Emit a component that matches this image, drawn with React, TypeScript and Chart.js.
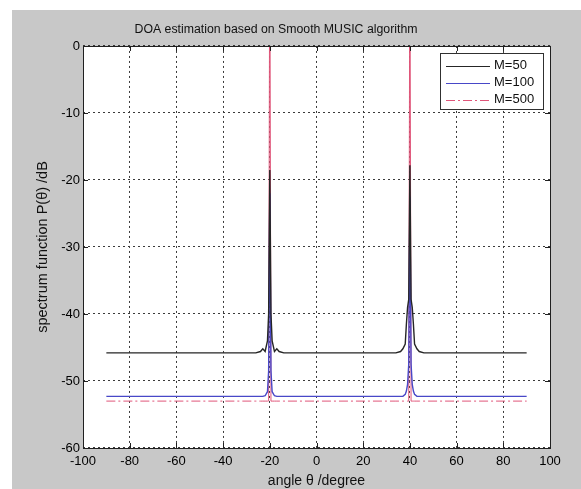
import React, { useEffect, useRef } from "react";
import { Chart, registerables } from "chart.js";

Chart.register(...registerables);

// angle grid (degrees)
const angles = [
  -90, -26, -24, -23, -22, -21, -20.5, -20, -19.5, -19, -18, -17, -16, -14,
  34, 36, 37, 38, 38.5, 39, 39.5, 40, 40.5, 41, 41.5, 42, 43, 44, 46, 90,
];

// spectrum values (dB) for each snapshot count
const m50 = [
  -45.8, -45.8, -45.6, -45.2, -45.6, -44.0, -40.0, -18.5, -40.0, -44.0, -45.6, -45.2, -45.6, -45.8,
  -45.8, -45.6, -45.2, -44.5, -41.5, -39.0, -37.8, -17.8, -37.8, -39.0, -41.5, -44.5, -45.2, -45.6, -45.8, -45.8,
];
const m100 = [
  -52.3, -52.3, -52.3, -52.3, -52.2, -51.6, -48.5, -22.0, -48.5, -51.6, -52.2, -52.3, -52.3, -52.3,
  -52.3, -52.3, -52.3, -52.0, -51.5, -50.5, -47.5, -22.5, -47.5, -50.5, -51.5, -52.0, -52.3, -52.3, -52.3, -52.3,
];
const m500 = [
  -53.0, -53.0, -53.0, -53.0, -53.0, -53.0, -53.0, 20.0, -53.0, -53.0, -53.0, -53.0, -53.0, -53.0,
  -53.0, -53.0, -53.0, -53.0, -53.0, -53.0, -53.0, 20.0, -53.0, -53.0, -53.0, -53.0, -53.0, -53.0, -53.0, -53.0,
];

const seriesLabels = ["M=50", "M=100", "M=500"];
const seriesColors = ["#262626", "#4848c8", "#e0567a"];
const xTicks = [-100, -80, -60, -40, -20, 0, 20, 40, 60, 80, 100];
const yTicks = [-60, -50, -40, -30, -20, -10, 0];

const titleText = "DOA estimation based on Smooth MUSIC algorithm";
const xTitle = "angle \u03b8 /degree";
const yTitle = "spectrum function P(\u03b8) /dB";

const FONT = "'Liberation Sans', Arial, sans-serif";
const DASHDOT = [9, 3, 2, 3];

const framePlugin = {
  id: "frame",
  beforeDraw(chart: any) {
    const { ctx, width, height, chartArea } = chart;
    ctx.save();
    ctx.fillStyle = "#ffffff";
    ctx.fillRect(0, 0, width, height);
    ctx.fillStyle = "#c8c8c8";
    ctx.fillRect(12, 10, width - 12, height - 10);
    ctx.fillStyle = "#ffffff";
    ctx.fillRect(chartArea.left, chartArea.top, chartArea.right - chartArea.left, chartArea.bottom - chartArea.top);
    ctx.restore();
  },
  afterDraw(chart: any) {
    const { ctx, chartArea, scales } = chart;
    const { left, right, top, bottom } = chartArea;
    ctx.save();
    ctx.setLineDash([]);
    ctx.strokeStyle = "#202020";
    ctx.lineWidth = 1;
    ctx.strokeRect(Math.round(left) + 0.5, Math.round(top) + 0.5, Math.round(right - left), Math.round(bottom - top));
    const tl = 5;
    ctx.beginPath();
    for (const v of xTicks) {
      const px = Math.round(scales.x.getPixelForValue(v)) + 0.5;
      ctx.moveTo(px, bottom);
      ctx.lineTo(px, bottom - tl);
      ctx.moveTo(px, top);
      ctx.lineTo(px, top + tl);
    }
    for (const v of yTicks) {
      const py = Math.round(scales.y.getPixelForValue(v)) + 0.5;
      ctx.moveTo(left, py);
      ctx.lineTo(left + tl, py);
      ctx.moveTo(right, py);
      ctx.lineTo(right - tl, py);
    }
    ctx.stroke();

    // legend
    const bx = 440, by = 53, bw = 103, bh = 56;
    ctx.fillStyle = "#ffffff";
    ctx.fillRect(bx, by, bw, bh);
    ctx.strokeStyle = "#303030";
    ctx.strokeRect(bx + 0.5, by + 0.5, bw, bh);
    ctx.font = `13px ${FONT}`;
    ctx.textBaseline = "middle";
    ctx.textAlign = "left";
    chart.data.datasets.forEach((ds: any, i: number) => {
      const y = by + 12.5 + i * 17;
      ctx.strokeStyle = ds.borderColor;
      ctx.lineWidth = 1.2;
      ctx.setLineDash(i === 2 ? DASHDOT : []);
      ctx.beginPath();
      ctx.moveTo(446, Math.round(y) + 0.5);
      ctx.lineTo(490, Math.round(y) + 0.5);
      ctx.stroke();
      ctx.setLineDash([]);
      ctx.fillStyle = "#111111";
      ctx.fillText(ds.label, 494, y);
    });
    ctx.restore();
  },
};

export default function App() {
  const ref = useRef<HTMLCanvasElement | null>(null);

  useEffect(() => {
    if (!ref.current) return;
    const series = [m50, m100, m500];
    const chart = new Chart(ref.current, {
      type: "line",
      data: {
        datasets: series.map((vals, i) => ({
          label: seriesLabels[i],
          data: angles.map((a, j) => ({ x: a, y: vals[j] })),
          borderColor: seriesColors[i],
          backgroundColor: seriesColors[i],
          borderWidth: i === 2 ? 1 : 1.4,
          pointRadius: 0,
          tension: 0,
          fill: false,
          order: i === 2 ? 3 : i,
          borderDash: i === 2 ? DASHDOT : [],
          segment:
            i === 2
              ? {
                  borderDash: (c: any) =>
                    Math.abs(c.p0.parsed.y - c.p1.parsed.y) > 5 ? [] : DASHDOT,
                }
              : undefined,
        })),
      },
      options: {
        responsive: false,
        animation: false,
        devicePixelRatio: 1,
        layout: { padding: { left: 2, right: 31, top: 0, bottom: 0 } },
        plugins: {
          legend: { display: false },
          tooltip: { enabled: false },
          title: {
            display: true,
            text: titleText,
            color: "#111111",
            font: { family: FONT, size: 12.3, weight: "normal" },
            padding: { top: 22, bottom: 9.2 },
          },
        },
        scales: {
          x: {
            type: "linear",
            min: -100,
            max: 100,
            afterBuildTicks: (s: any) => {
              s.ticks = xTicks.map((v) => ({ value: v }));
            },
            afterFit: (s: any) => {
              s.height = 41;
            },
            ticks: {
              color: "#000000",
              font: { family: FONT, size: 13 },
              padding: 6,
              maxRotation: 0,
              autoSkip: false,
            },
            grid: { color: "#3a3a3a", lineWidth: 1, drawTicks: false },
            border: { display: false, dash: [2, 3] },
            title: {
              display: true,
              text: xTitle,
              color: "#111111",
              font: { family: FONT, size: 14 },
              padding: { top: 0, bottom: -1 },
            },
          },
          y: {
            type: "linear",
            min: -60,
            max: 0,
            afterBuildTicks: (s: any) => {
              s.ticks = yTicks.map((v) => ({ value: v }));
            },
            afterFit: (s: any) => {
              s.width = 81;
            },
            ticks: {
              color: "#000000",
              font: { family: FONT, size: 13 },
              padding: 3,
              autoSkip: false,
            },
            grid: { color: "#3a3a3a", lineWidth: 1, drawTicks: false },
            border: { display: false, dash: [2, 3] },
            title: {
              display: true,
              text: yTitle,
              color: "#111111",
              font: { family: FONT, size: 14.5 },
              padding: { top: 32, bottom: 0 },
            },
          },
        },
      },
      plugins: [framePlugin],
    } as any);
    return () => chart.destroy();
  }, []);

  return (
    <div style={{ position: "absolute", left: 0, top: 0, width: 581, height: 489 }}>
      <canvas ref={ref} width={581} height={489} style={{ display: "block" }} />
    </div>
  );
}
